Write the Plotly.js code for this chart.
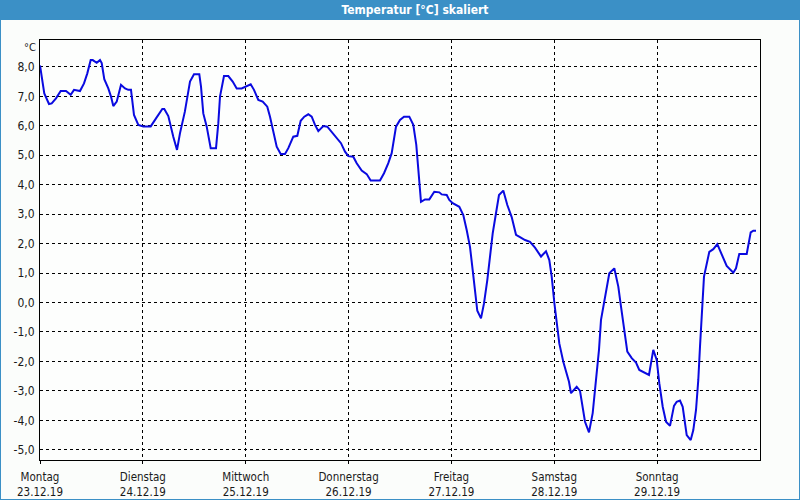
<!DOCTYPE html>
<html>
<head>
<meta charset="utf-8">
<script src="https://cdn.plot.ly/plotly-3.0.1.min.js"></script>
<style>
html,body{margin:0;padding:0;background:#fbfdfb;}
#chart{width:800px;height:500px;}
</style>
</head>
<body>
<div id="chart"></div>
<script>
// Hours since Monday 23.12.2019 00:00
const hours = [0,0.4,1.0,2.1,2.73,3.73,4.83,6.07,7.16,7.93,9.33,10.27,11.04,11.83,12.3,13.23,14,14.4,15.0,15.94,16.57,17.1,17.9,18.9,19.83,20.6,21.23,21.93,22.94,24.1,25.83,27.07,28.54,29,29.94,31.1,31.97,32.67,33.8,35,35.93,37.17,37.57,38.1,38.9,39.83,41.07,41.6,42,42.93,43.94,44.96,45.9,47.06,48.07,49.16,49.93,50.94,51.96,53.03,53.67,54.44,55.23,56.16,57.17,57.94,59.1,60.04,60.83,61.67,62.6,63.4,64.17,64.94,65.57,66.1,67.04,68.06,69.23,70.23,71.17,71.94,73.1,73.9,75.06,76.23,77.16,79.33,80.27,81.27,82.06,83.07,84,84.93,86.17,87.1,87.8,88.27,88.67,88.9,89.83,90.84,92,93.17,93.73,94.9,95.5,96.3,97.84,98.77,99.56,100.33,100.96,101.5,102.04,102.9,103.6,104.37,105,105.63,106.33,107.1,108.1,109.04,110.06,111.07,112,113.17,114.33,115.5,116.9,118.07,118.84,119.4,120,120.56,121.17,122.1,122.9,123.43,123.9,124.44,125.23,126,126.63,127.17,128.1,128.96,129.73,130.43,130.9,131.83,132.84,134,134.94,135.57,136.27,137.04,138.07,139.07,139.84,141.17,142.1,142.5,143.1,143.9,144.5,145.3,146.07,147,147.93,148.56,149.33,149.96,150.5,150.9,151.83,152.44,153.07,153.6,154,154.4,154.93,156.17,157.1,158.04,159.06,160.23,161.77,162.4,163.17,164.9,165.83,166.44,167.07];
const temps = [8.05,7.6,7.1,6.74,6.76,6.93,7.18,7.18,7.05,7.22,7.18,7.44,7.78,8.23,8.23,8.14,8.23,8.13,7.58,7.27,6.99,6.67,6.82,7.39,7.27,7.22,7.22,6.37,6.03,5.98,5.98,6.25,6.57,6.57,6.33,5.63,5.18,5.75,6.48,7.5,7.75,7.75,7.33,6.42,5.97,5.24,5.24,6.08,6.99,7.69,7.69,7.5,7.27,7.27,7.35,7.41,7.22,6.88,6.82,6.65,6.31,5.75,5.29,5.04,5.04,5.24,5.63,5.66,6.17,6.31,6.39,6.31,6.03,5.82,5.91,5.99,5.97,5.8,5.61,5.41,5.12,4.97,4.95,4.73,4.48,4.36,4.14,4.14,4.39,4.73,5.07,5.97,6.2,6.31,6.31,6.03,5.35,4.61,3.99,3.42,3.5,3.5,3.76,3.74,3.67,3.65,3.48,3.37,3.25,2.97,2.46,1.89,1.1,0.42,-0.28,-0.54,-0.03,0.76,1.67,2.35,2.97,3.65,3.8,3.31,2.9,2.3,2.22,2.12,2.06,1.86,1.56,1.74,1.44,0.88,0.0,-0.65,-1.39,-2.01,-2.38,-2.69,-3.08,-2.99,-2.86,-3.0,-3.54,-4.05,-4.41,-3.76,-2.63,-1.61,-0.59,0.14,0.99,1.16,0.54,-0.14,-0.82,-1.67,-1.89,-2.04,-2.29,-2.38,-2.46,-2.12,-1.61,-1.95,-2.74,-3.54,-4.05,-4.19,-3.51,-3.37,-3.33,-3.54,-4.1,-4.5,-4.67,-4.33,-3.65,-2.63,-1.5,-0.37,0.88,1.72,1.81,1.98,1.61,1.24,1.01,1.16,1.65,1.65,2.38,2.44,2.44];

const dayNames = ["Montag","Dienstag","Mittwoch","Donnerstag","Freitag","Samstag","Sonntag"];
const dayDates = ["23.12.19","24.12.19","25.12.19","26.12.19","27.12.19","28.12.19","29.12.19"];
const dayStarts = ["2019-12-23","2019-12-24","2019-12-25","2019-12-26","2019-12-27","2019-12-28","2019-12-29"];
const yTickVals = [8,7,6,5,4,3,2,1,0,-1,-2,-3,-4,-5];
const yTickText = ["8,0","7,0","6,0","5,0","4,0","3,0","2,0","1,0","0,0","-1,0","-2,0","-3,0","-4,0","-5,0"];

const base = Date.UTC(2019, 11, 23, 0, 0, 0);
const xs = hours.map(h => new Date(base + h * 3600e3).toISOString().slice(0, 19).replace('T', ' '));

// layout helpers (pixel -> paper)
const W = 800, H = 500, ML = 40, MR = 40, MT = 40, MB = 40;
const PW = W - ML - MR, PH = H - MT - MB;
const px = x => (x - ML) / PW;
const py = y => (H - MB - y) / PH;

const FONT = "DejaVu Sans Condensed, Tahoma, DejaVu Sans, sans-serif";
const BLUE = "#3b90c6";

const trace = {
  x: xs, y: temps, type: 'scatter', mode: 'lines',
  line: {color: '#0a0ae0', width: 2},
  hoverinfo: 'skip', showlegend: false
};

const layout = {
  width: W, height: H,
  margin: {l: ML, r: MR, t: MT, b: MB, pad: 0},
  paper_bgcolor: '#fbfdfb',
  plot_bgcolor: '#fdfefd',
  title: {
    text: '<b>Temperatur [°C] skaliert</b>',
    font: {family: FONT, size: 12, color: '#ffffff'},
    x: 415 / W, xanchor: 'center', xref: 'container',
    y: 1 - 10 / H, yanchor: 'middle', yref: 'container'
  },
  xaxis: {
    type: 'date',
    range: ['2019-12-23 00:00', '2019-12-30 00:00'],
    tickvals: dayStarts,
    ticktext: dayNames.map((d, i) => d + '<br>' + dayDates[i]),
    ticks: 'outside', ticklen: 3, tickwidth: 1, tickcolor: '#000000',
    showgrid: true, gridcolor: '#000000', gridwidth: 1, griddash: '3px,3px',
    showline: true, linecolor: '#000000', linewidth: 1, mirror: true,
    zeroline: false, fixedrange: true,
    tickfont: {family: FONT, size: 11.5, color: '#1a1a1a'},
    ticklabelstandoff: 3
  },
  yaxis: {
    range: [-5.348, 8.913],
    tickvals: yTickVals, ticktext: yTickText,
    ticks: '', showgrid: true, gridcolor: '#000000', gridwidth: 1, griddash: '3px,3px',
    showline: true, linecolor: '#000000', linewidth: 1, mirror: true,
    zeroline: false, fixedrange: true,
    tickfont: {family: FONT, size: 12, color: '#1a1a1a'},
    ticklabelstandoff: 2
  },
  shapes: [
    {type: 'rect', xref: 'paper', yref: 'paper', layer: 'below',
     x0: px(0), x1: px(800), y0: py(20), y1: py(0),
     fillcolor: BLUE, line: {width: 0}},
    {type: 'line', xref: 'paper', yref: 'paper', x0: px(0.5), x1: px(0.5), y0: py(20), y1: py(499.5),
     line: {color: BLUE, width: 1}},
    {type: 'line', xref: 'paper', yref: 'paper', x0: px(799.5), x1: px(799.5), y0: py(20), y1: py(499.5),
     line: {color: BLUE, width: 1}},
    {type: 'line', xref: 'paper', yref: 'paper', x0: px(0), x1: px(800), y0: py(499.5), y1: py(499.5),
     line: {color: BLUE, width: 1}}
  ],
  annotations: [
    {text: '°C', xref: 'paper', yref: 'paper', x: px(38), y: py(47),
     xanchor: 'right', yanchor: 'middle', showarrow: false,
     font: {family: FONT, size: 11, color: '#1a1a1a'}}
  ]
};

Plotly.newPlot('chart', [trace], layout, {displayModeBar: false, staticPlot: true});
</script>
</body>
</html>
